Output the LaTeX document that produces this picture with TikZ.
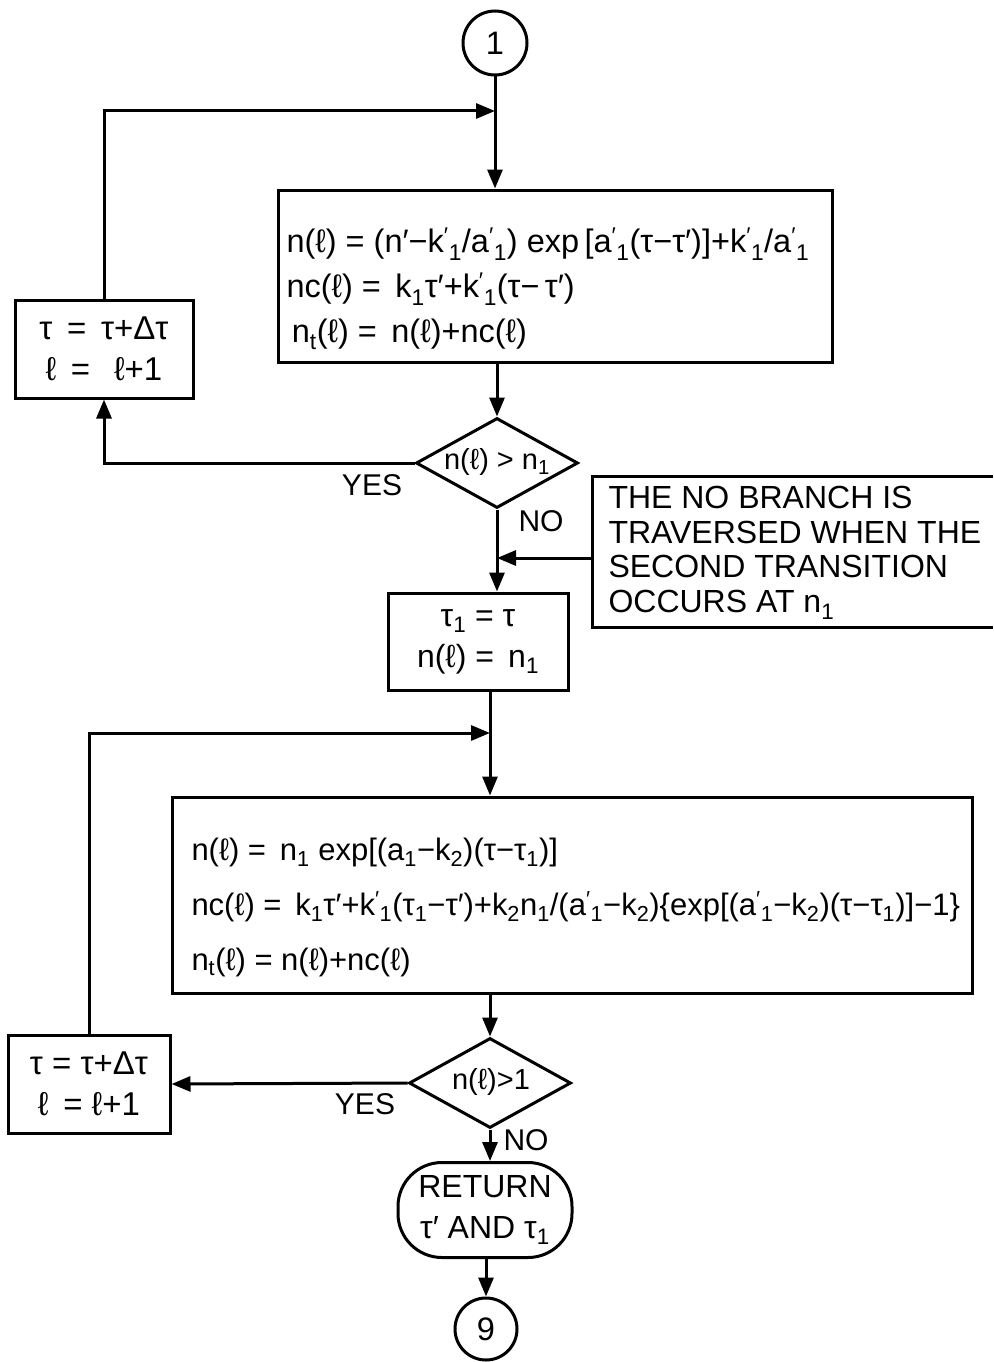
\documentclass[tikz,border=0pt]{standalone}
\usepackage{fontspec}
\setmainfont{Liberation Sans}
\usetikzlibrary{shapes.geometric,arrows.meta}
\newcommand\sbs[1]{\textsubscript{#1}}
\newcommand\pri[2]{#1\textsuperscript{′}\textsubscript{#2}}
\begin{document}
\begin{tikzpicture}[x=1pt,y=-1pt,line width=3pt,
  box/.style={draw,rectangle,inner sep=0pt},
  arr/.style={-{Triangle[length=19pt,width=15pt]}},
  ftA/.style={font=\fontsize{32.5}{45}\selectfont},
  ftB/.style={font=\fontsize{31}{55}\selectfont},
  ftC/.style={font=\fontsize{33}{41}\selectfont},
  ftD/.style={font=\fontsize{32}{41}\selectfont},
  ftN/.style={font=\fontsize{32}{34.5}\selectfont},
  lbl/.style={font=\fontsize{30}{34}\selectfont,inner sep=0pt},
  dia/.style={draw,diamond,inner sep=0pt,minimum width=162pt,minimum height=90pt},
  diat/.style={inner sep=0pt,font=\fontsize{29}{34}\selectfont}]
\path[use as bounding box] (0,0) rectangle (993,1362);

% connector circle 1
\node[draw,circle,minimum size=64pt,inner sep=0pt,ftA] (c1) at (495,43) {1};

% first computation box
\node[box,minimum width=554pt,minimum height=172pt] (b1) at (555,276) {};
\node[ftA,anchor=west,align=left,inner sep=0pt] (b1t) at (285,289)
 {n(ℓ) = (n′−\pri{k}{1}/\pri{a}{1}) exp\,[\pri{a}{1}(τ−τ′)]+\pri{k}{1}/\pri{a}{1}\\
  nc(ℓ) = \,k\sbs{1}τ′+\pri{k}{1}(τ−\,τ′)\\
  \,n\sbs{t}(ℓ) = \,n(ℓ)+nc(ℓ)};

% loop box 1
\node[box,ftC,minimum width=178pt,minimum height=98pt,align=center] (lb1) at (104,349)
 {τ \,= \,τ+Δτ\\ ℓ \,= \,\ ℓ+1};

% decision 1
\node[dia] (d1) at (497,463) {};
\node[diat] (d1t) at (497,462) {n(ℓ) > n\sbs{1}};
\node[lbl] (yes1) at (372,485) {YES};
\node[lbl] (no1) at (541,521) {NO};

% note (open box)
\coordinate (ntl) at (592,558);
\draw (993,476) -- (592,476) -- (592,627) -- (993,627);
\node[ftN,anchor=north west,align=left,inner sep=0pt] (note) at (607,485)
 {THE NO BRANCH IS\\TRAVERSED WHEN THE\\SECOND TRANSITION\\OCCURS AT n\sbs{1}};

% tau1 box
\node[box,ftD,minimum width=180pt,minimum height=97pt,align=center] (taub) at (478,641.5)
 {τ\sbs{1} = τ\\ n(ℓ) = \,n\sbs{1}};

% second loop junction
\coordinate (j2) at (490,733);

% second computation box
\node[box,minimum width=800pt,minimum height=196pt] (b2) at (572,895) {};
\node[ftB,anchor=west,align=left,inner sep=0pt] (b2t) at (190,907)
 {n(ℓ) = \,n\sbs{1} exp[(a\sbs{1}−k\sbs{2})(τ−τ\sbs{1})]\\
  nc(ℓ) = \,k\sbs{1}τ′+\pri{k}{1}(τ\sbs{1}−τ′)+k\sbs{2}n\sbs{1}/(\pri{a}{1}−k\sbs{2})\{exp[(\pri{a}{1}−k\sbs{2})(τ−τ\sbs{1})]−1\}\\
  n\sbs{t}(ℓ) = n(ℓ)+nc(ℓ)};

% loop box 2
\node[box,ftC,minimum width=162pt,minimum height=98pt,align=center] (lb2) at (89,1084)
 {τ = τ+Δτ\\ ℓ \,= ℓ+1};

% decision 2
\node[dia] (d2) at (490,1083) {};
\node[diat] (d2t) at (491,1082) {n(ℓ)>1};
\node[lbl] (yes2) at (365,1104) {YES};
\node[lbl] (no2) at (526,1140) {NO};

% return terminal
\node[draw,rounded corners=44pt,minimum width=174pt,minimum height=95pt,align=center,ftD] (term) at (485,1210)
 {RETURN\\ τ′ AND τ\sbs{1}};

% connector circle 9
\node[draw,circle,minimum size=62pt,inner sep=0pt,ftA] (c9) at (486,1329) {9};

% connectors
\coordinate (j1) at (c1.south |- 0,111);
\draw[arr] (c1.south) -- (c1.south |- b1.north);
\draw[arr] (lb1.north) |- (j1);
\draw[arr] (b1.south -| d1.north) -- (d1.north);
\draw[arr] (d1.west) -| (lb1.south);
\draw[arr] (d1.south) -- (d1.south |- taub.north);
\draw[arr] (ntl) -- (ntl -| d1.south);
\draw (taub.south -| j2) -- (j2);
\draw[arr] (j2) -- (j2 |- b2.north);
\draw[arr] (lb2.north) |- (j2);
\draw[arr] (b2.south -| d2.north) -- (d2.north);
\draw[arr] (d2.west) -- (lb2.east);
\draw[arr] (d2.south) -- (d2.south |- term.north);
\draw[arr] (term.south -| c9.north) -- (c9.north);
\end{tikzpicture}
\end{document}
